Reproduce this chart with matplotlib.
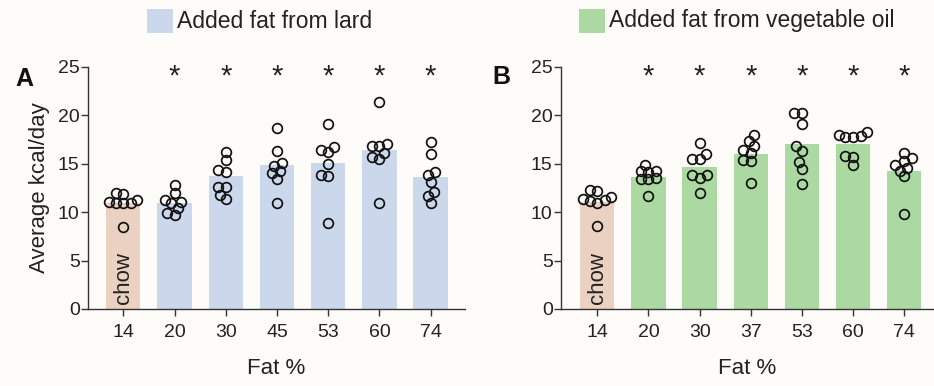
"""
Average daily energy intake for chow vs. added-fat diets (lard / vegetable oil).
Two panels of bars (group means) with individual animals as open circles.
"""
import matplotlib
matplotlib.use("Agg")
import matplotlib.pyplot as plt
from matplotlib.patches import Rectangle

plt.rcParams["font.family"] = ["Liberation Sans", "DejaVu Sans"]

BG = "#fdfcf9"
CHOW_COLOR = "#ebd1c1"
LARD_COLOR = "#cbd7eb"
VEG_COLOR = "#abd9a1"

# Panel A: lard
LARD_FAT = ["14", "20", "30", "45", "53", "60", "74"]
LARD_MEAN = [11.0, 10.9, 13.7, 14.9, 15.1, 16.4, 13.6]
LARD_POINTS = [
    [11.9, 12.0, 11.1, 10.9, 10.9, 11.3, 11.0, 8.5],
    [12.0, 12.8, 11.1, 11.3, 10.4, 9.7, 9.9, 10.9],
    [16.2, 15.4, 14.4, 14.1, 12.6, 12.6, 11.4, 11.8],
    [18.7, 16.3, 15.1, 14.8, 14.0, 14.3, 13.4, 10.9],
    [19.1, 16.7, 16.2, 16.4, 15.0, 13.8, 13.7, 8.9],
    [21.4, 16.8, 17.0, 16.8, 15.7, 15.5, 16.1, 10.9],
    [17.2, 16.0, 13.8, 14.1, 13.1, 12.1, 11.7, 11.0],
]

# Panel B: vegetable oil
VEG_FAT = ["14", "20", "30", "37", "53", "60", "74"]
VEG_MEAN = [11.1, 13.6, 14.7, 16.0, 17.0, 17.0, 14.3]
VEG_POINTS = [
    [12.2, 12.3, 11.4, 11.2, 11.3, 11.0, 11.6, 8.6],
    [14.3, 14.9, 14.3, 13.4, 13.4, 13.5, 14.2, 11.7],
    [17.1, 16.0, 15.5, 15.5, 13.8, 13.5, 13.8, 12.0],
    [17.4, 18.0, 16.8, 16.4, 16.1, 15.4, 15.3, 13.0],
    [20.2, 20.2, 19.1, 16.3, 16.8, 15.2, 14.5, 12.9],
    [18.0, 17.9, 17.8, 17.8, 18.3, 15.8, 14.9, 15.7],
    [15.6, 16.1, 15.3, 14.9, 14.3, 14.6, 13.7, 9.8],
]

SIG = [False, True, True, True, True, True, True]

PX_X = 51.0   # pixels per category
PX_Y = 9.68   # pixels per kcal
DIAM_PX = 9.5
MAX_OFF = 0.27


def swarm(values):
    """Deterministic, bounded swarm offsets (category units) for one group."""
    grid = [i * 0.03 for i in range(-9, 10)]
    grid.sort(key=abs)
    placed = []
    offsets = [0.0] * len(values)
    order = sorted(range(len(values)), key=lambda i: values[i])
    for i in order:
        v = values[i]
        best, best_d = 0.0, -1.0
        for x in grid:
            if abs(x) > MAX_OFF:
                continue
            d = min([(((x - px) * PX_X) ** 2 + ((v - py) * PX_Y) ** 2) ** 0.5
                     for px, py in placed] or [99.0])
            if d >= 0.75 * DIAM_PX:
                best = x
                break
            if d > best_d:
                best, best_d = x, d
        placed.append((best, v))
        offsets[i] = best
    return offsets


def panel(ax, labels, means, points, color):
    xs = list(range(len(labels)))
    colors = [CHOW_COLOR] + [color] * (len(labels) - 1)
    ax.bar(xs, means, width=0.67, color=colors, zorder=1)

    for x, vals in zip(xs, points):
        offs = swarm(vals)
        ax.plot([x + o for o in offs], vals, "o", ms=7.0, mfc="none",
                mec="#111111", mew=1.25, zorder=3, clip_on=False)

    for x, s in zip(xs, SIG):
        if s:
            ax.text(x, 24.0, "*", ha="center", va="center", fontsize=21,
                    color="#222222")

    ax.text(0, 0.5, "chow", rotation=90, ha="center", va="bottom",
            fontsize=16, color="#222222", zorder=2)

    ax.set_ylim(0, 25)
    ax.set_yticks([0, 5, 10, 15, 20, 25])
    ax.set_xticks(xs)
    ax.set_xticklabels(labels)
    ax.tick_params(axis="both", labelsize=14, colors="#333333", length=5,
                   width=1.0, labelcolor="#222222")
    ax.tick_params(axis="y", pad=1)
    ax.tick_params(axis="x", pad=6)
    for side in ("top", "right"):
        ax.spines[side].set_visible(False)
    for side in ("left", "bottom"):
        ax.spines[side].set_color("#333333")
        ax.spines[side].set_linewidth(1.0)
    ax.set_facecolor("none")
    ax.set_xlabel("Fat %", fontsize=16, color="#222222", labelpad=12)


fig = plt.figure(figsize=(9.34, 3.86), dpi=100, facecolor=BG)

axA = fig.add_axes([0.0942, 0.1995, 0.4036, 0.627])
panel(axA, LARD_FAT, LARD_MEAN, LARD_POINTS, LARD_COLOR)
axA.set_xlim(-0.69, 6.67)
axA.set_ylabel("Average kcal/day", fontsize=16, color="#222222", labelpad=6)

axB = fig.add_axes([0.6006, 0.1995, 0.3994, 0.627])
panel(axB, VEG_FAT, VEG_MEAN, VEG_POINTS, VEG_COLOR)
axB.set_xlim(-0.71, 6.58)

# panel letters
fig.text(15 / 934, 1 - 79 / 386, "A", fontsize=18, fontweight="bold",
         ha="left", va="center", color="#111111")
fig.text(492 / 934, 1 - 77 / 386, "B", fontsize=18, fontweight="bold",
         ha="left", va="center", color="#111111")

# legends drawn as patch + text above each panel
for (px, text, color) in [(147, "Added fat from lard", LARD_COLOR),
                          (579, "Added fat from vegetable oil", VEG_COLOR)]:
    fig.patches.append(Rectangle((px / 934, 1 - 33 / 386), 26 / 934, 24 / 386,
                                 transform=fig.transFigure, facecolor=color,
                                 edgecolor="none"))
    fig.text((px + 30) / 934, 1 - 21 / 386, text, fontsize=16.5, ha="left",
             va="center", color="#222222")

fig.savefig("out.png", dpi=100, facecolor=BG)
